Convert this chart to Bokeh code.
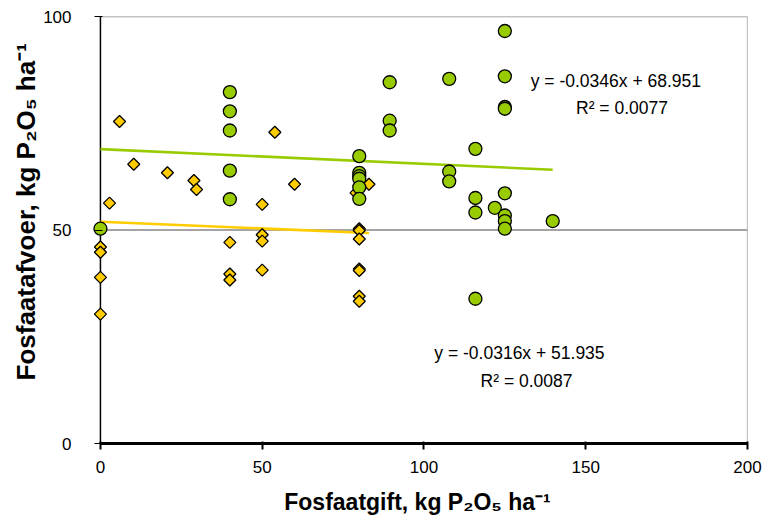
import numpy as np
from bokeh.plotting import figure
from bokeh.models import Label, FixedTicker, Range1d, Title
from bokeh.embed import file_html
from bokeh.resources import INLINE

# ---- data ----
green_x = [0, 40, 40, 40, 40, 40, 80, 80, 80, 80, 80, 80, 89.4, 89.4, 89.4,
           107.8, 107.8, 107.8, 115.9, 115.9, 115.9, 115.9, 121.9,
           125, 125, 125, 125, 125, 125, 125, 125, 139.8]
green_y = [50.3, 82.3, 77.8, 73.3, 63.9, 57.2, 67.3, 63.4, 62.6, 62.0, 60.0, 57.3,
           84.6, 75.6, 73.3, 85.4, 63.7, 61.4, 69.0, 57.5, 54.1, 33.9, 55.2,
           96.6, 86.0, 78.8, 78.4, 58.6, 53.4, 52.1, 50.3, 52.1]

yellow_x = [0, 0, 0, 0, 2.8, 5.9, 10.3, 20.7, 28.9, 29.7, 40, 40, 40,
            50, 50, 50, 50, 53.9, 60, 79, 80, 80, 80, 80, 80, 80, 80, 83]
yellow_y = [46.0, 44.8, 38.9, 30.3, 56.3, 75.4, 65.4, 63.4, 61.6, 59.5, 47.1, 39.7, 38.3,
            56.0, 48.9, 47.4, 40.6, 72.9, 60.7, 58.7, 50.3, 49.9, 47.9, 40.9, 40.5, 34.5, 33.3, 60.7]

green_fit = (-0.0346, 68.951)
yellow_fit = (-0.0316, 51.935)
green_eq = ["y = -0.0346x + 68.951", "R² = 0.0077"]
yellow_eq = ["y = -0.0316x + 51.935", "R² = 0.0087"]

x_ticks = [0, 50, 100, 150, 200]
y_ticks = [0, 50, 100]
x_title = "Fosfaatgift, kg P₂O₅ ha⁻¹"
y_title = "Fosfaatafvoer, kg P₂O₅ ha⁻¹"

FONT = "Liberation Sans"
GREEN = "#99CC00"
YELLOW = "#FFCC00"
GRID = "#868686"

pad = 4  # range padding left of x=0 so markers at x=0 are not clipped

p = figure(width=762, height=523,
           x_range=Range1d(x_ticks[0] - pad, x_ticks[-1]),
           y_range=Range1d(y_ticks[0], y_ticks[-1]),
           output_backend="svg", toolbar_location=None,
           min_border_left=87, min_border_right=15,
           min_border_top=16, min_border_bottom=80)
p.outline_line_color = None
p.xgrid.visible = False
p.ygrid.visible = False
p.background_fill_color = "white"
p.border_fill_color = "white"

# grid line at 50, top border, right border, y-axis line (from tick values)
p.segment(x0=[x_ticks[0]] * 2, x1=[x_ticks[-1]] * 2, y0=y_ticks[1:], y1=y_ticks[1:],
          line_color=GRID, line_width=1.4)
p.segment(x0=[x_ticks[-1]], x1=[x_ticks[-1]], y0=[y_ticks[0]], y1=[y_ticks[-1]],
          line_color=GRID, line_width=1.2)
p.segment(x0=[x_ticks[0]], x1=[x_ticks[0]], y0=[y_ticks[0]], y1=[y_ticks[-1]],
          line_color="black", line_width=1.5)

# trend lines
gx = np.array([0, max(green_x)])
yx = np.array([0, max(yellow_x)])
p.line(gx, green_fit[0] * gx + green_fit[1], line_color=GREEN, line_width=2.6)
p.line(yx, yellow_fit[0] * yx + yellow_fit[1], line_color=YELLOW, line_width=2.6)

# markers
p.scatter(yellow_x, yellow_y, marker="square", angle=np.pi / 4, size=8.5,
          fill_color=YELLOW, line_color="black", line_width=1.3)
p.scatter(green_x, green_y, marker="circle", size=13,
          fill_color=GREEN, line_color="black", line_width=1.3)

# axes
for ax in (p.xaxis[0], p.yaxis[0]):
    ax.major_label_text_font = FONT
    ax.major_label_text_font_size = "17px"
    ax.major_label_text_color = "black"
    ax.axis_label_text_font = FONT
    ax.axis_label_text_font_size = "23px"
    ax.axis_label_text_font_style = "bold"
    ax.axis_label_text_color = "black"
    ax.axis_line_color = "black"
    ax.major_tick_line_color = "black"
    ax.minor_tick_line_color = None

p.xaxis.ticker = FixedTicker(ticks=x_ticks)
p.yaxis.ticker = FixedTicker(ticks=y_ticks)
p.xaxis.bounds = (x_ticks[0], x_ticks[-1])
p.xaxis.axis_line_width = 3
p.xaxis.major_tick_line_width = 2
p.xaxis.major_tick_in = 2
p.xaxis.major_tick_out = 6
# y-axis sits at the padded frame edge; its line is drawn at x=0 above,
# ticks are shifted inward to cross x=0
p.yaxis.axis_line_color = None
p.yaxis.major_tick_line_width = 1.2
p.yaxis.major_tick_in = 15
p.yaxis.major_tick_out = -7
p.xaxis.axis_label = x_title
p.xaxis.major_label_standoff = 11
p.yaxis.major_label_standoff = 16
p.xaxis.axis_label_standoff = 13

# y-axis title as a left-side title (rotated)
p.add_layout(Title(text=y_title, align="left", offset=63,
                   text_font=FONT, text_font_size="26px", text_font_style="bold",
                   text_color="black", standoff=0), "left")

# equation labels
for txt, (x, y) in zip(green_eq + yellow_eq,
                       [(133, 85.0), (147, 78.5), (103.2, 21.2), (117.5, 14.6)]):
    p.add_layout(Label(x=x, y=y, text=txt, text_font=FONT, text_font_size="17.5px",
                       text_color="black", text_baseline="middle", text_align="left"))

open("out.html", "w").write(file_html(p, INLINE))
